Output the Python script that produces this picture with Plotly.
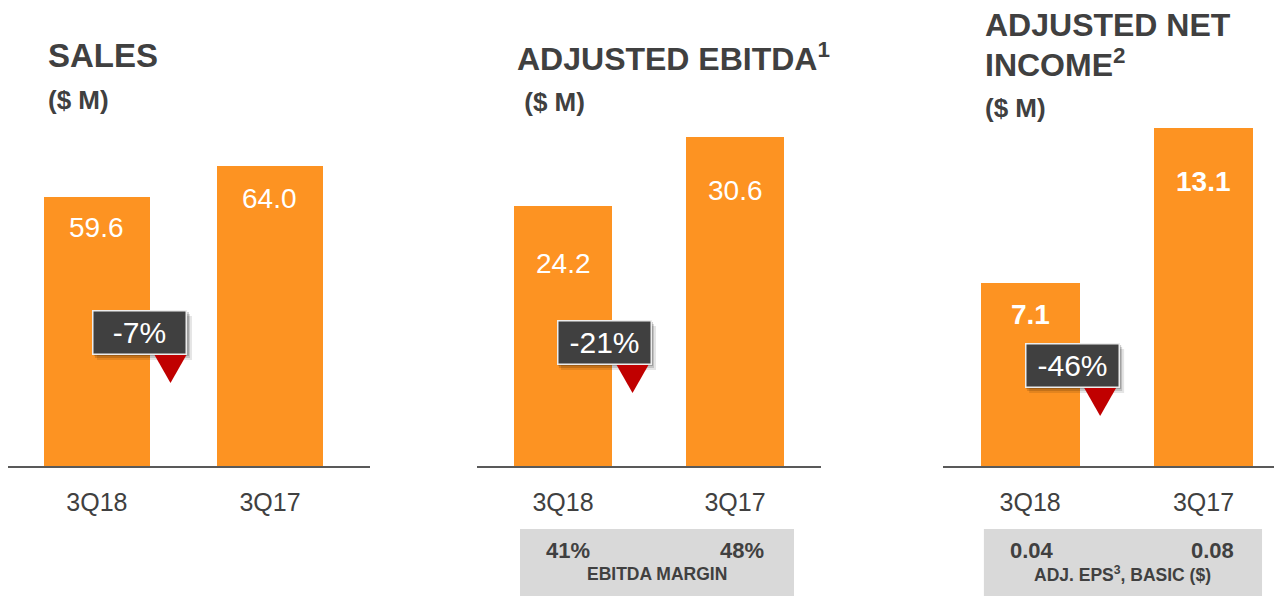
import plotly.graph_objects as go

W, H = 1274, 596

# ---- data ----
categories = ["3Q18", "3Q17"]
sales = [59.6, 64.0]
adj_ebitda = [24.2, 30.6]
adj_net_income = [7.1, 13.1]
pct_change = ["-7%", "-21%", "-46%"]
ebitda_margin = ["41%", "48%"]
adj_eps_basic = ["0.04", "0.08"]

ORANGE = "#FD9322"
DARK = "#404040"
RED = "#C00000"
GREY_BOX = "#D9D9D9"
SANS = "Liberation Sans, Arial, sans-serif"


def px(x):
    return x / W


def py(y):
    return 1 - y / H


BASE_Y = 466
TOP_Y = 100

panels = [
    dict(values=sales, xd=(8, 370), xr=(-0.514, 1.578), yr=(21, 73.46), bw=0.613,
         label_off=(31, 32), bold=False, badge=pct_change[0], badge_dx=-10, badge_dy=134),
    dict(values=adj_ebitda, xd=(477, 821), xr=(-0.5, 1.5), yr=(0, 34.04), bw=0.57,
         label_off=(58, 54), bold=False, badge=pct_change[1], badge_dx=-8, badge_dy=124),
    dict(values=adj_net_income, xd=(943, 1274), xr=(-0.503, 1.407), yr=(0, 14.19), bw=0.571,
         label_off=(31.5, 53), bold=True, badge=pct_change[2], badge_dx=-7.5, badge_dy=101),
]

fig = go.Figure()
annotations = []
shapes = []
layout = {}

for i, p in enumerate(panels):
    n = "" if i == 0 else str(i + 1)
    xa, ya = "x" + n, "y" + n
    fig.add_trace(go.Bar(
        x=categories, y=p["values"], width=p["bw"], marker_color=ORANGE,
        marker_line_width=0, xaxis=xa, yaxis=ya, hoverinfo="skip", showlegend=False,
    ))
    layout["xaxis" + n] = dict(
        domain=[px(p["xd"][0]), px(p["xd"][1])], range=list(p["xr"]), anchor=ya,
        showline=True, linecolor="#595959", linewidth=2, showgrid=False, zeroline=False,
        ticks="", ticklabelstandoff=13,
        tickfont=dict(family=SANS, size=25, color=DARK), fixedrange=True,
    )
    layout["yaxis" + n] = dict(
        domain=[py(BASE_Y), py(TOP_Y)], range=list(p["yr"]), anchor=xa,
        showline=False, showgrid=False, zeroline=False, showticklabels=False, fixedrange=True,
    )
    # value labels inside bars
    for c, v, off in zip(categories, p["values"], p["label_off"]):
        txt = f"{v:.1f}"
        if p["bold"]:
            txt = f"<b>{txt}</b>"
        annotations.append(dict(
            xref=xa, yref=ya, x=c, y=v, yshift=-off, yanchor="middle", xanchor="center",
            text=txt, showarrow=False, font=dict(family=SANS, size=28, color="white"),
        ))
    # change badge
    edge = 0 + p["bw"] / 2
    dy = p["badge_dy"]
    bx = p["badge_dx"]
    # soft shadow
    for ox, oy, op in ((5, 6, 0.10), (3, 4, 0.14), (2, 2, 0.18)):
        shapes.append(dict(
            type="rect", xref=xa, yref=ya + " domain", xsizemode="pixel", ysizemode="pixel",
            xanchor=edge, yanchor=0, x0=bx - 47 + ox - 1, x1=bx + 47 + ox,
            y0=dy - 22 - oy, y1=dy + 22 - oy,
            fillcolor=f"rgba(0,0,0,{op})", line_width=0, layer="above",
        ))
    # red down triangle
    ttop = dy - 22
    shapes.append(dict(
        type="path", xref=xa, yref=ya + " domain", xsizemode="pixel", ysizemode="pixel",
        xanchor=edge, yanchor=0,
        path=f"M 4,{ttop} L 37,{ttop} L 20.5,{ttop - 29} Z",
        fillcolor=RED, line_width=0, layer="above",
    ))
    annotations.append(dict(
        xref=xa, yref=ya + " domain", x=edge, y=0, xshift=bx, yshift=dy,
        xanchor="center", yanchor="middle", text=p["badge"], showarrow=False,
        font=dict(family=SANS, size=30, color="white"), bgcolor=DARK,
        bordercolor="#EDEDED", borderwidth=1.5, borderpad=0, width=92, height=42,
    ))

# grey info boxes under panels 2 and 3
box_specs = [("x2", -0.25, 1.343, ebitda_margin, "EBITDA MARGIN", (5, 7)),
             ("x3", -0.267, 1.338, adj_eps_basic, "ADJ. EPS<sup>3</sup>, BASIC ($)", (2, 9))]
for xa, x0, x1, vals, caption, shifts in box_specs:
    shapes.append(dict(type="rect", xref=xa, yref="paper", x0=x0, x1=x1,
                       y0=-0.05, y1=py(529), fillcolor=GREY_BOX, line_width=0, layer="below"))
    for k, (c, v) in enumerate(zip(categories, vals)):
        annotations.append(dict(
            xref=xa, yref="paper", x=k, y=py(550.5), xshift=shifts[k], xanchor="center",
            yanchor="middle", text=f"<b>{v}</b>", showarrow=False,
            font=dict(family=SANS, size=22, color=DARK),
        ))
    annotations.append(dict(
        xref=xa, yref="paper", x=(x0 + x1) / 2, y=py(574), xanchor="center", yanchor="middle",
        text=f"<b>{caption}</b>", showarrow=False, font=dict(family=SANS, size=17.5, color=DARK),
    ))

# titles
titles = [
    ("SALES", 46, 56, 33),
    ("($ M)", 46, 100, 26),
    ("ADJUSTED EBITDA<sup>1</sup>", 515, 57, 32),
    (" ($ M)", 515, 102, 26),
    ("ADJUSTED NET", 983, 25, 32),
    ("INCOME<sup>2</sup>", 983, 63, 32),
    ("($ M)", 983, 108, 26),
]
for t, x, y, s in titles:
    annotations.append(dict(
        xref="paper", yref="paper", x=px(x), y=py(y), xanchor="left", yanchor="middle",
        text=f"<b>{t}</b>", showarrow=False, font=dict(family=SANS, size=s, color=DARK),
    ))

fig.update_layout(
    width=W, height=H, margin=dict(l=0, r=0, t=0, b=0),
    paper_bgcolor="white", plot_bgcolor="white",
    annotations=annotations, shapes=shapes, showlegend=False, bargap=0,
    **layout,
)
fig.write_html(
    "out.html",
    config={"displayModeBar": False},
    post_script="document.body.style.margin='0';document.body.style.padding='0';",
)
